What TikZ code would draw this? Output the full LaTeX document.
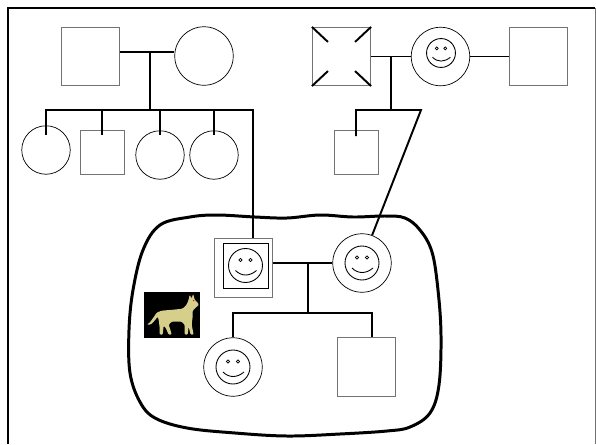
\documentclass[tikz,border=0pt]{standalone}
\usepackage{tikz}
\usetikzlibrary{positioning}
\usepackage{color}
\definecolor{linegray}{rgb}{0.45, 0.45, 0.45}
\definecolor{dogfur}{RGB}{214, 207, 140}
\tikzstyle{male} = [draw=linegray,inner sep=0pt]
\tikzstyle{female} = [circle,draw,inner sep=0pt]
\tikzstyle{big} = [minimum size=1.17cm]
\tikzstyle{small} = [minimum size=0.97cm]
\tikzstyle{smallsq} = [minimum size=0.88cm]
\tikzstyle{link} = [line width=1.1pt]
\tikzset{face/.pic={
	\draw[line width=0.5pt] (0,0) circle (17);
	\draw[line width=0.4pt] (-5,-5.5) circle (1.7) (5,-5.5) circle (1.7);
	\draw[line width=0.5pt] (-10,5) .. controls (-4,11) and (4,11) .. (11,5);
}}

\begin{document}
\begin{tikzpicture}[x=0.02cm, y=-0.02cm]
		\useasboundingbox (0,0) rectangle (596,444);
		\draw[line width=1.5pt] (8,444) -- (8,8) -- (595,8);
		\draw[linegray] (595,8) -- (595,444);

		% household
		\draw[line width=1.7pt] plot[smooth cycle, tension=0.6] coordinates {
			(160,225) (190,217) (217,215) (255,217) (287,218) (320,215) (353,217)
			(385,216) (405,218) (420,230) (432,252) (438,290) (441,335) (439,385)
			(430,413) (410,427) (387,431) (340,434) (287,436) (235,433) (187,428)
			(155,418) (140,402) (130,373) (129,330) (133,290) (143,250)};

		% first grandparents and their children
		\node [male,big](gpa) at (90.5,56.5){};
		\node [female,big](gma) at (204,56){};
		\coordinate (m1) at (150,52);
		\coordinate (sib1) at (150,110);
		\coordinate (e1) at (253,110);
		\node [female,small](k1) at (46,150){};
		\node [male,smallsq](k2) at (102,152.5){};
		\node [female,small](k3) at (160,155){};
		\node [female,small](k4) at (214,155){};

		% second grandparents
		\node [male,big](gpb) at (341.5,56.5){};
		\node [female,big](gmb) at (440.5,56.5){};
		\node [male,big](ex) at (538.5,56.5){};
		\coordinate (m2) at (391,57);
		\coordinate (sib2) at (391,110);
		\coordinate (e2) at (421,110);
		\node [male,smallsq](k5) at (356,152.5){};
		\pic [scale=0.85] at (441,53) {face};
		\draw[link] (gpb.north west) -- ++(16,15);
		\draw[link] (gpb.north east) -- ++(-16,15);
		\draw[link] (gpb.south west) -- ++(16,-15);
		\draw[link] (gpb.south east) -- ++(-16,-15);

		% parents and children
		\node [male,big](dad) at (243.5,268){};
		\node [draw,minimum size=0.9cm,inner sep=0pt](dadin) at (245.5,265.5){};
		\node [female,big](mom) at (362,263){};
		\node [female,big](d1) at (233,367){};
		\node [male,big](s1) at (366.5,367){};
		\coordinate (m3) at (308,263);
		\coordinate (sib3) at (308,313);
		\coordinate (e3) at (372,313);
		\pic at (dadin) {face};
		\pic at (mom) {face};
		\pic at (d1) {face};

		% dog
		\node [fill=black,minimum width=1.12cm,minimum height=0.92cm,inner sep=0pt](dog) at (172,315){};
		\fill[dogfur,shift={(dog.north west)},rounded corners=0.6pt]
			(55.5,13) -- (52,16) -- (49,19) -- (49,25) -- (48,33) -- (50,43) -- (47,43) -- (45,35)
			-- (44,43) -- (41,43) -- (41,33) -- (38,30) -- (28,30) -- (25,33) -- (27,39) -- (28,43)
			-- (25,43) -- (22,36) -- (20,34) -- (19,43) -- (16,43) -- (16,36) -- (15,28) -- (14,25)
			-- (11,29) -- (7,33) -- (3,33) -- (6,31) -- (9,27) -- (13,21) -- (18,19) -- (30,18)
			-- (39,17) -- (43,13) -- (45,8) -- (46,3) -- (48,7) -- (49.5,2) -- (51,8) -- (53,10) -- cycle;
		\fill[red,shift={(dog.north west)}] (50,8.8) circle (0.8);

		\draw[link](gpa.east |- m1)--(gma.west |- m1);
		\draw[link](m1)--(sib1);
		\draw[link](dad.north -| e1)--(e1)--(e1 -| k1)--++(0,25);
		\foreach \k in {k2,k3,k4}
			\draw[link](sib1 -| \k)--++(0,25);
		\draw[link](gpb.east)--(gmb.west);
		\draw[link](gmb.east)--(ex.west);
		\draw[link](m2)--(sib2);
		\draw[link](mom.70)--(e2)--(e2 -| k5)--++(0,26);
		\draw[link](dad.east |- m3)--(mom.west |- m3);
		\draw[link](m3)--(sib3);
		\draw[link](d1.north)--(sib3 -| d1)--(e3)--(e3 |- s1.north);
		\end{tikzpicture}
\end{document}
